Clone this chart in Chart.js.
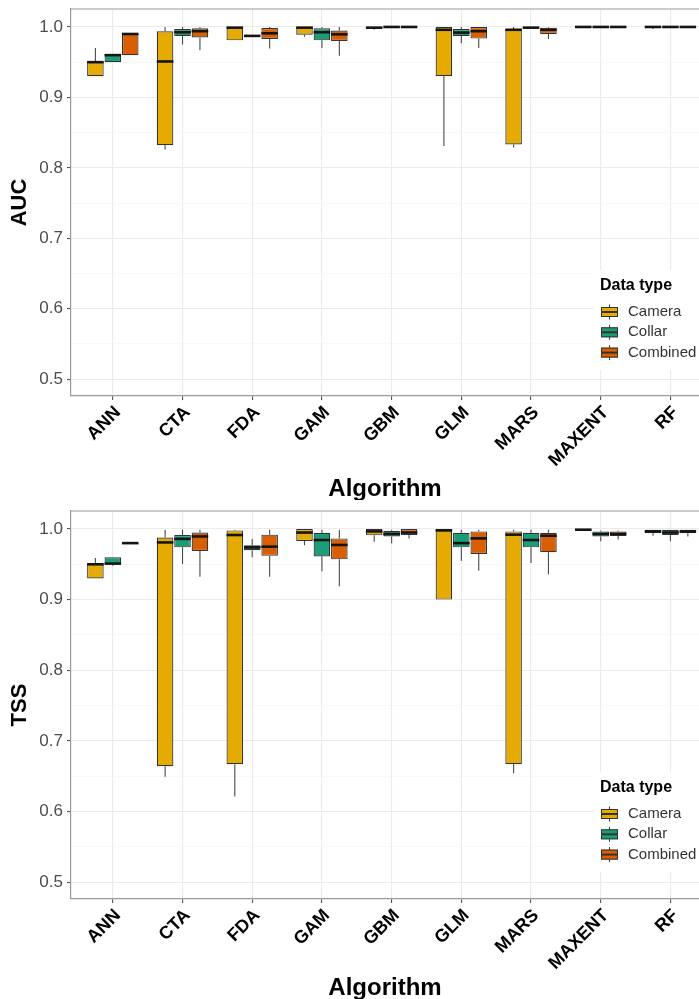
<!DOCTYPE html>
<html><head><meta charset="utf-8">
<script src="https://cdn.jsdelivr.net/npm/chart.js@4.4.1/dist/chart.umd.min.js"></script>
<style>
html,body{margin:0;padding:0;background:#fff;overflow:hidden;}
#wrap{width:699px;height:999px;position:relative;}
.panel{position:absolute;left:0;width:699px;}
</style></head><body>
<div id="wrap">
<div class="panel" style="top:0;height:500px"><canvas id="c1" width="699" height="500"></canvas></div>
<div class="panel" style="top:500px;height:499px"><canvas id="c2" width="699" height="499"></canvas></div>
</div>
<script>
// ---- data ----
const algorithms = ['ANN','CTA','FDA','GAM','GBM','GLM','MARS','MAXENT','RF'];
const dataTypes = ['Camera','Collar','Combined'];
const yMajorTicks = [0.5,0.6,0.7,0.8,0.9,1.0];
const yMinorTicks = [0.55,0.65,0.75,0.85,0.95];
// each entry: [min, q1, median, q3, max]
const aucCamera = [[0.93,0.93,0.95,0.951,0.97],[0.826,0.832,0.951,0.994,1.0],[0.981,0.981,0.999,1.0,1.0],[0.986,0.989,0.999,1.0,1.0],[0.996,0.998,0.999,1.0,1.0],[0.831,0.930,0.996,1.0,1.0],[0.829,0.833,0.996,0.997,1.0],[0.999,0.999,1.0,1.0,1.0],[0.997,0.999,1.0,1.0,1.0]];
const aucCollar = [[0.95,0.95,0.96,0.9615,0.9615],[0.975,0.987,0.9925,0.997,1.0],[0.987,0.987,0.9873,0.9875,0.988],[0.970,0.981,0.9925,0.998,1.0],[0.9995,0.9995,1.0,1.0,1.0],[0.977,0.987,0.992,0.997,1.0],[0.998,0.998,0.999,1.0,1.0],[1.0,1.0,1.0,1.0,1.0],[0.999,0.9995,1.0,1.0,1.0]];
const aucCombined = [[0.96,0.96,0.99,0.991,0.991],[0.967,0.985,0.994,0.998,1.0],[0.9695,0.983,0.991,0.9985,1.0],[0.959,0.980,0.9895,0.995,1.0],[1.0,1.0,1.0,1.0,1.0],[0.970,0.9835,0.994,1.0,1.0],[0.983,0.990,0.996,0.999,1.0],[1.0,1.0,1.0,1.0,1.0],[1.0,1.0,1.0,1.0,1.0]];
const tssCamera = [[0.93,0.93,0.95,0.9505,0.959],[0.649,0.664,0.981,0.988,0.999],[0.621,0.667,0.9915,0.998,0.999],[0.977,0.983,0.995,1.0,1.0],[0.982,0.991,0.9966,1.0,1.0],[0.90,0.90,0.998,1.0,1.0],[0.654,0.667,0.992,0.9966,0.999],[0.998,0.9985,0.999,0.9995,1.0],[0.9905,0.994,0.9966,0.999,0.999]];
const tssCollar = [[0.948,0.95,0.951,0.960,0.960],[0.9505,0.974,0.986,0.9915,0.999],[0.960,0.970,0.974,0.977,0.986],[0.940,0.961,0.9844,0.9948,0.999],[0.980,0.9895,0.993,0.9976,0.999],[0.955,0.974,0.980,0.9948,0.999],[0.952,0.974,0.9844,0.9948,0.999],[0.9825,0.9895,0.993,0.9966,0.998],[0.9825,0.9915,0.995,0.999,0.999]];
const tssCombined = [[0.979,0.9795,0.98,0.9805,0.981],[0.9325,0.969,0.9895,0.995,0.999],[0.9325,0.962,0.975,0.992,0.999],[0.919,0.957,0.9774,0.9867,0.999],[0.9867,0.9915,0.995,1.0,1.0],[0.941,0.9646,0.9867,0.9966,0.999],[0.936,0.967,0.9905,0.9948,0.999],[0.985,0.990,0.993,0.9966,0.998],[0.9895,0.994,0.9966,0.999,0.999]];

// ---- styles ----
const seriesColors = ['#E6AB02','#1B9E77','#D95F02'];
const FONT = "'Liberation Sans', Arial, Helvetica, sans-serif";
Chart.defaults.font.family = FONT;
const yAllTicks = yMajorTicks.concat(yMinorTicks).sort((a,b)=>a-b);
const isMajor = v => yMajorTicks.some(t => Math.abs(t - v) < 1e-6);

const boxPlugin = {
  id: 'boxWhisker',
  beforeDatasetsDraw(chart) {
    const ctx = chart.ctx, ys = chart.scales.y, a = chart.chartArea;
    ctx.save();
    ctx.beginPath(); ctx.rect(a.left, a.top, a.right - a.left, a.bottom - a.top); ctx.clip();
    ctx.strokeStyle = '#4a4a4a'; ctx.lineWidth = 1.1;
    chart.data.datasets.forEach((ds, di) => {
      const meta = chart.getDatasetMeta(di);
      ds.stats.forEach((s, i) => {
        const el = meta.data[i]; if (!el) return;
        const x = el.x;
        ctx.beginPath();
        ctx.moveTo(x, ys.getPixelForValue(s[0])); ctx.lineTo(x, ys.getPixelForValue(s[1]));
        ctx.moveTo(x, ys.getPixelForValue(s[3])); ctx.lineTo(x, ys.getPixelForValue(s[4]));
        ctx.stroke();
      });
    });
    ctx.restore();
  },
  afterDatasetsDraw(chart) {
    const ctx = chart.ctx, ys = chart.scales.y, a = chart.chartArea;
    ctx.save();
    ctx.beginPath(); ctx.rect(a.left, a.top - 2, a.right - a.left, a.bottom - a.top + 2); ctx.clip();
    ctx.strokeStyle = '#141414'; ctx.lineWidth = 2.6; ctx.lineCap = 'butt';
    chart.data.datasets.forEach((ds, di) => {
      const meta = chart.getDatasetMeta(di);
      ds.stats.forEach((s, i) => {
        const el = meta.data[i]; if (!el) return;
        const y = ys.getPixelForValue(s[2]);
        ctx.beginPath(); ctx.moveTo(el.x - el.width / 2, y); ctx.lineTo(el.x + el.width / 2, y); ctx.stroke();
      });
    });
    ctx.restore();
  },
  afterDraw(chart) {
    const ctx = chart.ctx, a = chart.chartArea;
    ctx.save();
    // top panel border
    ctx.strokeStyle = '#9a9a9a'; ctx.lineWidth = 1.2;
    ctx.beginPath(); ctx.moveTo(a.left, a.top); ctx.lineTo(a.right, a.top); ctx.stroke();
    // legend
    const lx = 600, top = a.top;
    ctx.fillStyle = '#ffffff';
    ctx.fillRect(lx - 6, top + 261, a.right - lx + 6, 100);
    ctx.fillStyle = '#000'; ctx.textBaseline = 'middle'; ctx.textAlign = 'left';
    ctx.font = "bold 16px " + FONT;
    ctx.fillText('Data type', lx, top + 277);
    ctx.font = "15px " + FONT;
    chart.data.datasets.forEach((ds, di) => {
      const cy = top + 303 + di * 20.3;
      const kx = lx + 1, kw = 17;
      ctx.strokeStyle = '#333'; ctx.lineWidth = 1;
      ctx.beginPath(); ctx.moveTo(kx + kw / 2, cy - 7.5); ctx.lineTo(kx + kw / 2, cy + 7.5); ctx.stroke();
      ctx.fillStyle = ds.backgroundColor;
      ctx.fillRect(kx, cy - 5, kw, 10);
      ctx.strokeRect(kx + 0.5, cy - 5 + 0.5, kw - 1, 9);
      ctx.lineWidth = 2; ctx.beginPath(); ctx.moveTo(kx, cy); ctx.lineTo(kx + kw, cy); ctx.stroke();
      ctx.fillStyle = '#333';
      ctx.fillText(ds.label, lx + 28, cy);
    });
    ctx.restore();
  }
};

function makeChart(id, yTitle, seriesList, topPad, xHeight) {
  const datasets = seriesList.map((stats, k) => ({
    type: 'bar',
    label: dataTypes[k],
    stats: stats,
    data: stats.map((s, i) => ({ x: i, y: [s[1], s[3]] })),
    backgroundColor: seriesColors[k],
    borderColor: '#333333',
    borderWidth: 1.2,
    borderSkipped: false,
    categoryPercentage: 0.75,
    barPercentage: 0.95
  }));
  return new Chart(document.getElementById(id), {
    type: 'bar',
    data: { datasets },
    plugins: [boxPlugin],
    options: {
      responsive: false, animation: false,
      layout: { padding: { top: topPad, left: 0, right: 0, bottom: 0 } },
      plugins: { legend: { display: false }, tooltip: { enabled: false } },
      scales: {
        x: {
          type: 'linear', min: -0.6, max: 8.41, offset: false,
          afterBuildTicks: s => { s.ticks = algorithms.map((_, i) => ({ value: i })); },
          afterFit: s => { s.height = xHeight; s.paddingLeft = 0; s.paddingRight = 0; },
          ticks: { callback: v => algorithms[v], autoSkip: false, minRotation: 45, maxRotation: 45,
                   color: '#000', font: { size: 18, weight: 'bold' }, padding: 2, labelOffset: 5 },
          grid: { offset: false, color: '#EBEBEB', lineWidth: 1.1, tickLength: 4, tickColor: '#555' },
          border: { color: '#9a9a9a', width: 1.2 },
          title: { display: true, text: 'Algorithm', color: '#000', font: { size: 24, weight: 'bold', lineHeight: 0.85 }, padding: { top: 0, bottom: 0 } }
        },
        y: {
          min: 0.476, max: 1.0255,
          afterBuildTicks: s => { s.ticks = yAllTicks.map(v => ({ value: v })); },
          afterFit: s => { s.width = 71; s.paddingTop = 0; s.paddingBottom = 0; },
          ticks: { callback: v => isMajor(v) ? v.toFixed(1) : '', autoSkip: false, color: '#4D4D4D', font: { size: 17 }, padding: 4 },
          grid: { color: c => isMajor(c.tick.value) ? '#EBEBEB' : '#F5F5F5',
                  lineWidth: c => isMajor(c.tick.value) ? 1.1 : 0.7,
                  tickLength: 4, tickColor: c => isMajor(c.tick.value) ? '#555' : 'rgba(0,0,0,0)' },
          border: { color: '#9a9a9a', width: 1.2 },
          title: { display: true, text: yTitle, color: '#000', font: { size: 22, weight: 'bold' }, padding: { top: 7, bottom: 0 } }
        }
      }
    }
  });
}

makeChart('c1', 'AUC', [aucCamera, aucCollar, aucCombined], 9, 104);
makeChart('c2', 'TSS', [tssCamera, tssCollar, tssCombined], 11, 100);
</script>
</body></html>
